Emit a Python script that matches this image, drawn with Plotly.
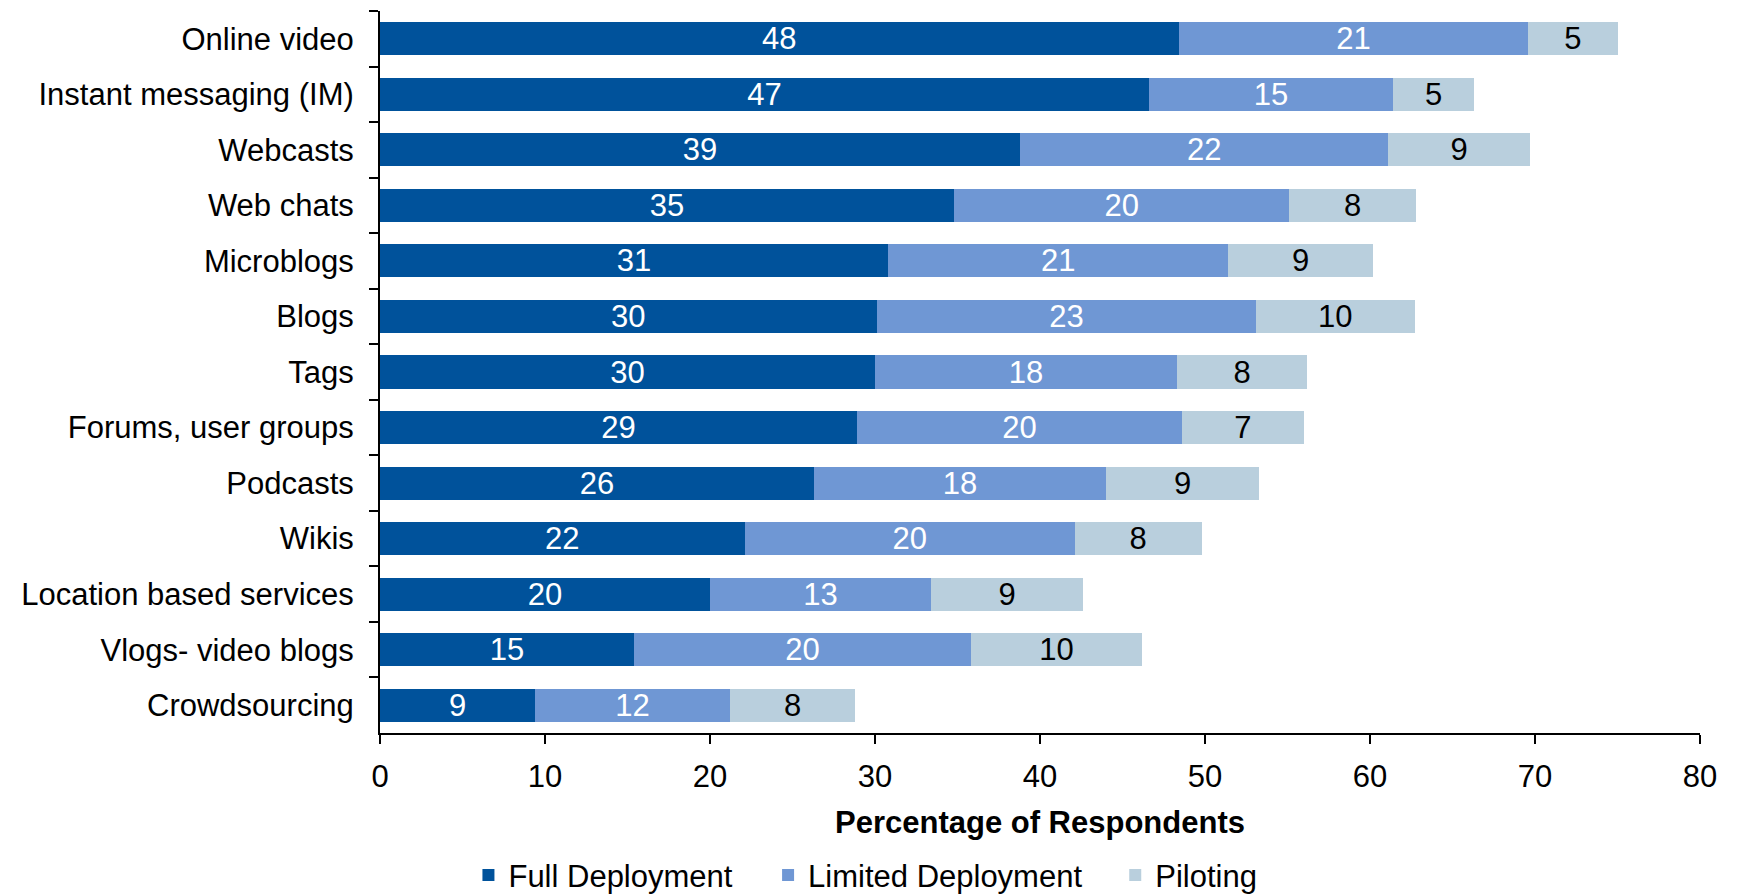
import plotly.graph_objects as go

categories = ["Online video", "Instant messaging (IM)", "Webcasts", "Web chats", "Microblogs",
              "Blogs", "Tags", "Forums, user groups", "Podcasts", "Wikis",
              "Location based services", "Vlogs- video blogs", "Crowdsourcing"]
full_deployment = [48.4, 46.6, 38.8, 34.8, 30.8, 30.1, 30.0, 28.9, 26.3, 22.1, 20.0, 15.4, 9.4]
limited_deployment = [21.2, 14.8, 22.3, 20.3, 20.6, 23.0, 18.3, 19.7, 17.7, 20.0, 13.4, 20.4, 11.8]
piloting = [5.4, 4.9, 8.6, 7.7, 8.8, 9.6, 7.9, 7.4, 9.3, 7.7, 9.2, 10.4, 7.6]
x_ticks = [0, 10, 20, 30, 40, 50, 60, 70, 80]

FONT = "Arial, Liberation Sans, sans-serif"
FS = 31

series = [
    ("Full Deployment", full_deployment, "#00529B", "white", "legend", 0.067),
    ("Limited Deployment", limited_deployment, "#6F97D4", "white", "legend2", 0.294),
    ("Piloting", piloting, "#B9CFDD", "black", "legend3", 0.557),
]

fig = go.Figure()
for name, vals, color, tcolor, leg, _ in series:
    fig.add_trace(go.Bar(
        y=categories, x=vals, name=name, orientation="h",
        marker=dict(color=color, line=dict(width=0)),
        texttemplate="%{x:.0f}", textposition="inside", insidetextanchor="middle",
        textangle=0, constraintext="none",
        textfont=dict(family=FONT, size=FS, color=tcolor),
        legend=leg, showlegend=True,
    ))

layout_legends = {}
for name, vals, color, tcolor, leg, xpos in series:
    layout_legends[leg] = dict(
        x=xpos, y=-0.197, xanchor="left", yanchor="middle",
        orientation="h", bgcolor="rgba(0,0,0,0)",
        font=dict(family=FONT, size=FS, color="black"),
        visible=True,
    )

fig.update_layout(
    width=1738, height=896,
    margin=dict(l=380, r=38, t=11, b=163, autoexpand=False),
    showlegend=True,
    barmode="stack", bargap=0.405,
    plot_bgcolor="white", paper_bgcolor="white",
    font=dict(family=FONT, size=FS, color="black"),
    xaxis=dict(
        range=[0, 80], tickvals=x_ticks, ticktext=[str(v) for v in x_ticks],
        showgrid=False, zeroline=False,
        showline=True, linecolor="black", linewidth=2,
        ticks="outside", ticklen=9, tickwidth=2, tickcolor="black",
        ticklabelstandoff=6,
        tickfont=dict(family=FONT, size=FS, color="black"),
        title=dict(text="<b>Percentage of Respondents</b>",
                   font=dict(family=FONT, size=FS, color="black"), standoff=18),
    ),
    yaxis=dict(
        autorange="reversed", type="category",
        showgrid=False, zeroline=False,
        showline=True, linecolor="black", linewidth=2,
        ticks="outside", ticklen=9, tickwidth=2, tickcolor="black",
        tickson="boundaries", ticklabelstandoff=18,
        tickfont=dict(family=FONT, size=FS, color="black"),
    ),
    **layout_legends,
)

fig.write_html("out.html")
